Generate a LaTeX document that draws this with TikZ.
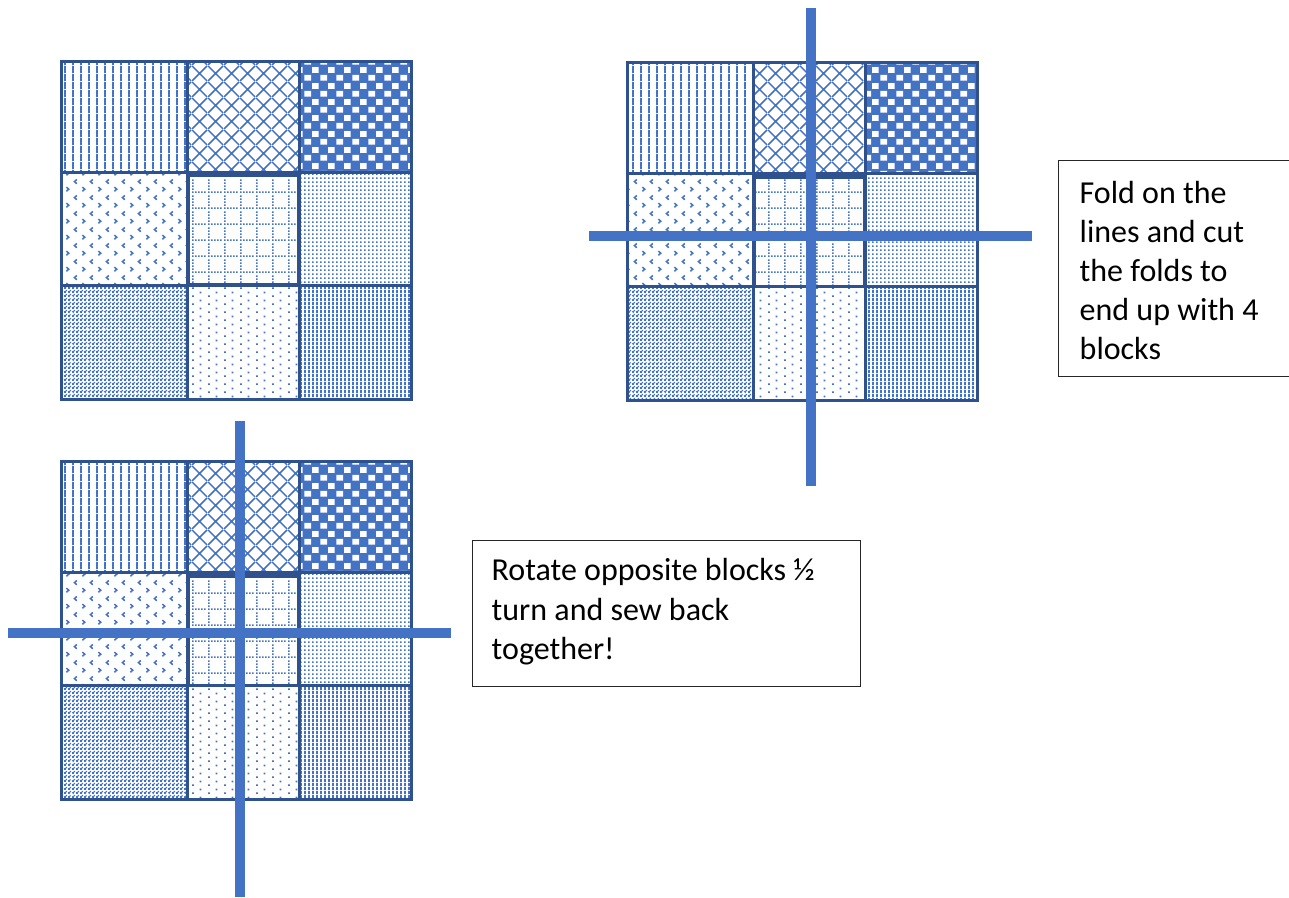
\documentclass[tikz,border=0pt]{standalone}
\usepackage{fontspec}
\setmainfont{Carlito}
\usetikzlibrary{patterns}
\definecolor{pblue}{HTML}{4472C4}
\definecolor{bdark}{HTML}{2F528F}

% ---------- patterns (form only) ----------
\pgfdeclarepatternformonly{qvlines}{\pgfqpoint{0pt}{0pt}}{\pgfqpoint{8pt}{8pt}}{\pgfqpoint{8pt}{8pt}}{%
  \pgfpathrectangle{\pgfqpoint{0pt}{0pt}}{\pgfqpoint{2pt}{8pt}}\pgfusepath{fill}}
\pgfdeclarepatternformonly{qvdense}{\pgfqpoint{0pt}{0pt}}{\pgfqpoint{4pt}{4pt}}{\pgfqpoint{4pt}{4pt}}{%
  \pgfpathrectangle{\pgfqpoint{0pt}{0pt}}{\pgfqpoint{2.4pt}{4pt}}\pgfusepath{fill}}
\pgfdeclarepatternformonly{qdiamond}{\pgfqpoint{0pt}{0pt}}{\pgfqpoint{16pt}{16pt}}{\pgfqpoint{16pt}{16pt}}{%
  \pgfsetlinewidth{1.6pt}%
  \pgfpathmoveto{\pgfqpoint{0pt}{0pt}}\pgfpathlineto{\pgfqpoint{16pt}{16pt}}%
  \pgfpathmoveto{\pgfqpoint{0pt}{16pt}}\pgfpathlineto{\pgfqpoint{16pt}{0pt}}%
  \pgfusepath{stroke}}
\pgfdeclarepatternformonly{qcheckw}{\pgfqpoint{0pt}{0pt}}{\pgfqpoint{16pt}{16pt}}{\pgfqpoint{16pt}{16pt}}{%
  \pgfpathrectangle{\pgfqpoint{0.5pt}{0.5pt}}{\pgfqpoint{7pt}{6pt}}%
  \pgfpathrectangle{\pgfqpoint{8.5pt}{8.5pt}}{\pgfqpoint{7pt}{6pt}}\pgfusepath{fill}}
\pgfdeclarepatternformonly{qchev}{\pgfqpoint{0pt}{0pt}}{\pgfqpoint{16pt}{16pt}}{\pgfqpoint{16pt}{16pt}}{%
  \pgfsetlinewidth{1.6pt}%
  \pgfpathmoveto{\pgfqpoint{2.5pt}{1.8pt}}\pgfpathlineto{\pgfqpoint{5pt}{4pt}}\pgfpathlineto{\pgfqpoint{2.5pt}{6.2pt}}%
  \pgfpathmoveto{\pgfqpoint{13.5pt}{9.8pt}}\pgfpathlineto{\pgfqpoint{11pt}{12pt}}\pgfpathlineto{\pgfqpoint{13.5pt}{14.2pt}}%
  \pgfusepath{stroke}}
\pgfdeclarepatternformonly{qdotgrid}{\pgfqpoint{0pt}{0pt}}{\pgfqpoint{16pt}{16pt}}{\pgfqpoint{16pt}{16pt}}{%
  \pgfpathrectangle{\pgfqpoint{0pt}{0pt}}{\pgfqpoint{1.6pt}{1.6pt}}%
  \pgfpathrectangle{\pgfqpoint{3.2pt}{0pt}}{\pgfqpoint{1.6pt}{1.6pt}}%
  \pgfpathrectangle{\pgfqpoint{6.4pt}{0pt}}{\pgfqpoint{1.6pt}{1.6pt}}%
  \pgfpathrectangle{\pgfqpoint{9.6pt}{0pt}}{\pgfqpoint{1.6pt}{1.6pt}}%
  \pgfpathrectangle{\pgfqpoint{12.8pt}{0pt}}{\pgfqpoint{1.6pt}{1.6pt}}%
  \pgfpathrectangle{\pgfqpoint{0pt}{3.2pt}}{\pgfqpoint{1.6pt}{1.6pt}}%
  \pgfpathrectangle{\pgfqpoint{0pt}{6.4pt}}{\pgfqpoint{1.6pt}{1.6pt}}%
  \pgfpathrectangle{\pgfqpoint{0pt}{9.6pt}}{\pgfqpoint{1.6pt}{1.6pt}}%
  \pgfpathrectangle{\pgfqpoint{0pt}{12.8pt}}{\pgfqpoint{1.6pt}{1.6pt}}%
  \pgfusepath{fill}}
\pgfdeclarepatternformonly{qdense}{\pgfqpoint{0pt}{0pt}}{\pgfqpoint{4.3pt}{4.3pt}}{\pgfqpoint{4.3pt}{4.3pt}}{%
  \pgfpathrectangle{\pgfqpoint{0pt}{0pt}}{\pgfqpoint{1.9pt}{1.9pt}}\pgfusepath{fill}}
\pgfdeclarepatternformonly{qfine}{\pgfqpoint{0pt}{0pt}}{\pgfqpoint{4pt}{4pt}}{\pgfqpoint{4pt}{4pt}}{%
  \pgfpathrectangle{\pgfqpoint{0pt}{0pt}}{\pgfqpoint{2.3pt}{2.3pt}}%
  \pgfpathrectangle{\pgfqpoint{2pt}{2pt}}{\pgfqpoint{2pt}{2pt}}\pgfusepath{fill}}
\pgfdeclarepatternformonly{qplus}{\pgfqpoint{0pt}{0pt}}{\pgfqpoint{16pt}{16pt}}{\pgfqpoint{16pt}{16pt}}{%
  \pgfpathrectangle{\pgfqpoint{6pt}{7.2pt}}{\pgfqpoint{4pt}{1.6pt}}%
  \pgfpathrectangle{\pgfqpoint{7.2pt}{6pt}}{\pgfqpoint{1.6pt}{4pt}}\pgfusepath{fill}}
\pgfdeclarepatternformonly{qsparse}{\pgfqpoint{0pt}{0pt}}{\pgfqpoint{16pt}{8pt}}{\pgfqpoint{16pt}{8pt}}{%
  \pgfpathrectangle{\pgfqpoint{0pt}{0pt}}{\pgfqpoint{1.9pt}{1.9pt}}%
  \pgfpathrectangle{\pgfqpoint{8pt}{4pt}}{\pgfqpoint{1.9pt}{1.9pt}}\pgfusepath{fill}}

\tikzset{
  pat/.style={pattern=#1, pattern color=pblue},
  cellb/.style={draw=bdark, line width=3pt},
  midb/.style={draw=bdark, line width=3.6pt},
  fold/.style={draw=pblue, line width=10pt},
  tbox/.style={draw=black!85, line width=1pt},
  tline/.style={anchor=base west, inner sep=0pt, font=\fontsize{32}{39}\selectfont, text=black},
}

\newcommand{\quiltgrid}{%
  % row 1
  \fill[pat=qvlines] (61,61) rectangle (187,172);
  \fill[pat=qdiamond] (187,61) rectangle (299,172);
  \fill[pblue] (299,61) rectangle (411,172);
  \fill[pattern=qcheckw, pattern color=white] (299,61) rectangle (411,172);
  % row 2
  \fill[pat=qchev] (61,172) rectangle (187,285);
  \fill[pat=qdotgrid] (188,176) rectangle (299,285);
  \fill[pat=qdense] (299,172) rectangle (411,285);
  % row 3
  \fill[pat=qfine] (61,285) rectangle (187,399);
  \fill[pattern=qplus, pattern color=white] (61,285) rectangle (187,399);
  \fill[pat=qsparse] (187,285) rectangle (299,399);
  \fill[pat=qvdense] (299,285) rectangle (411,399);
  % borders
  \draw[cellb] (61,61) rectangle (187,172);
  \draw[cellb] (187,61) rectangle (299,172);
  \draw[cellb] (299,61) rectangle (411,172);
  \draw[cellb] (61,172) rectangle (187,285);
  \draw[cellb] (299,172) rectangle (411,285);
  \draw[cellb] (61,285) rectangle (187,399);
  \draw[cellb] (187,285) rectangle (299,399);
  \draw[cellb] (299,285) rectangle (411,399);
  \draw[midb] (188,175.5) rectangle (299,285);
}

\begin{document}
\begin{tikzpicture}[x=1pt, y=-1pt]
  \useasboundingbox (0,0) rectangle (1289,897);
  \fill[white] (0,0) rectangle (1289,897);

  % quilt 1 (top left)
  \begin{scope}
    \quiltgrid
  \end{scope}

  % quilt 2 (top right) with fold lines
  \begin{scope}[shift={(566,1.5)}]
    \quiltgrid
  \end{scope}
  \draw[fold] (811,8) -- (811,486);
  \draw[fold] (589,236) -- (1032,236);

  % quilt 3 (bottom left) with fold lines
  \begin{scope}[shift={(0,400.5)}]
    \quiltgrid
  \end{scope}
  \draw[fold] (240,421) -- (240,897);
  \draw[fold] (8,632.5) -- (451,632.5);

  % text box 1
  \draw[tbox] (1058,160) rectangle (1300,376);
  \node[tline] (fa) at (1079.5,203) {Fold on the};
  \node[tline] (fb) at (1079.5,242) {lines and cut};
  \node[tline] (fc) at (1079.5,281) {the folds to};
  \node[tline] (fd) at (1079.5,320) {end up with 4};
  \node[tline] (fe) at (1079.5,359) {blocks};

  % text box 2
  \draw[tbox] (472,540) rectangle (860,686);
  \node[tline] (ra) at (491.5,580) {Rotate opposite blocks ½};
  \node[tline] (rb) at (491.5,620) {turn and sew back};
  \node[tline] (rc) at (491.5,659.5) {together!};
\end{tikzpicture}
\end{document}
